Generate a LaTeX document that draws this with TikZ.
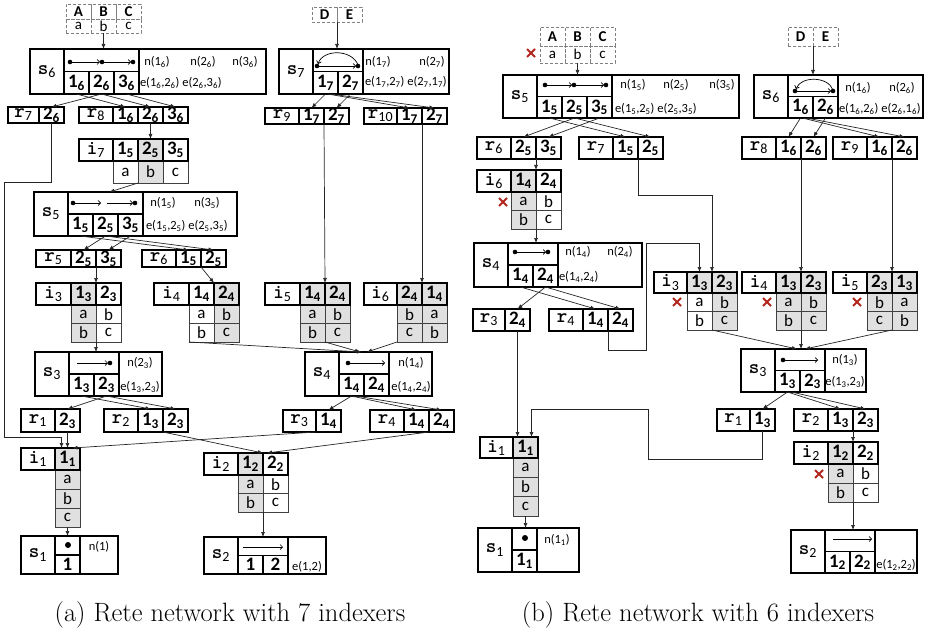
\documentclass[tikz,border=0pt]{standalone}
\usepackage{fontspec}
\usetikzlibrary{arrows.meta}
\newfontfamily\calibri{Carlito}
\definecolor{cellShade}{HTML}{E0E0E0}
\definecolor{crossRed}{HTML}{B3261E}
\newcommand{\idx}[1]{\textsubscript{#1}}
\newcommand{\lbl}[2]{{\ttfamily\bfseries #1}{\calibri\textsubscript{#2}}}
\newcommand{\labfont}{\fontsize{20}{22}\selectfont}
\newcommand{\headfont}{\calibri\bfseries\fontsize{19}{21}\selectfont}
\newcommand{\datafont}{\calibri\fontsize{17}{19}\selectfont}
\newcommand{\infofont}{\calibri\fontsize{12.5}{15}\selectfont}
\newcommand{\inpfont}{\calibri\fontsize{15}{17}\selectfont}
% row table: [label width]{name}{x}{y}{height}{label}{fill/text list}
\newcommand{\rtab}[7][34]{%
  \node[labcell, minimum width=#1, minimum height=#5, anchor=north west] (#2) at (#3,#4) {#6};
  \foreach \fl/\tx [count=\ci] in {#7}
    \node[headcell, fill=\fl, minimum height=#5, anchor=north west] (#2-\ci) at ({#3+#1+(\ci-1)*25},#4) {\tx};
}
% indexer: [label width]{name}{x}{y}{head height}{row height}{label}{head cells}{rows}
\newcommand{\itab}[9][34]{%
  \foreach \row [count=\ri] in {#9}
    \foreach \fl/\tx [count=\ci] in \row
      \node[datacell, fill=\fl, minimum height=#6, anchor=north west] (#2-\ri-\ci) at ({#3+#1+(\ci-1)*25},{#4+#5+(\ri-1)*#6}) {\tx};
  \rtab[#1]{#2}{#3}{#4}{#5}{#7}{#8}
}
% subgraph: {name}{x}{y}{height}{cells}{label}{cell texts}{right edge}
\newcommand{\stab}[8]{%
  \node[labcell, minimum width=34, minimum height=#4, anchor=north west] (#1) at (#2,#3) {#6};
  \node[headcell, minimum width={#5*25}, minimum height={#4/2}, anchor=north west] (#1-g) at ({#2+34},#3) {};
  \foreach \tx [count=\ci] in {#7}
    \node[headcell, minimum height={#4/2}, anchor=north west] (#1-\ci) at ({#2+34+(\ci-1)*25},{#3+#4/2}) {\tx};
  \node[headcell, minimum width={#8-#2-34-#5*25}, minimum height=#4, anchor=north west] (#1-t) at ({#2+34+#5*25},#3) {};
}

\begin{document}
\begin{tikzpicture}[x=1pt, y=-1pt,
    every node/.style={inner sep=0pt, outer sep=0pt},
    labcell/.style={draw, line width=1.6pt, font=\labfont},
    headcell/.style={draw, line width=1.6pt, minimum width=25, font=\headfont},
    datacell/.style={draw=black!75, line width=0.6pt, minimum width=25, font=\datafont},
    dashcell/.style={draw=black!50, densely dashed, line width=0.6pt, minimum width=25, font=\inpfont},
    info/.style={font=\infofont},
    conn/.style={draw=black!85, line width=0.7pt, -{Latex[length=5pt,width=4pt]}},
    gedge/.style={line width=0.7pt, -{Straight Barb[length=2.5pt,width=5pt]}},
    redcross/.style={crossRed, line width=1.8pt}]
  \useasboundingbox (0,0) rectangle (928,631);

  % ---------- (a) ----------
  \foreach \h/\d [count=\ci] in {A/a,B/b,C/c} {
    \node[dashcell, font=\inpfont\bfseries, minimum height=15, anchor=north west] (ta-\ci) at ({66+(\ci-1)*25},4) {\h};
    \node[dashcell, minimum height=14, anchor=north west] (ta-1-\ci) at ({66+(\ci-1)*25},19) {\d};
  }
  \foreach \h [count=\ci] in {D,E}
    \node[dashcell, font=\inpfont\bfseries, minimum height=15, anchor=north west] (td-\ci) at ({312+(\ci-1)*25},7) {\h};

  \stab{s6}{30}{49}{45}{3}{\lbl s6}{1\idx6,2\idx6,3\idx6}{266}
  \stab{s7}{279}{49}{45}{2}{\lbl s7}{1\idx7,2\idx7}{449}
  \rtab[31]{r7}{8}{107}{16}{\lbl r7}{white/2\idx6}
  \rtab{r8}{79}{107}{16}{\lbl r8}{white/1\idx6,white/2\idx6,white/3\idx6}
  \rtab{r9}{265}{108}{16}{\lbl r9}{white/1\idx7,white/2\idx7}
  \rtab[33]{r10}{364}{108}{16}{\lbl r{10}}{white/1\idx7,white/2\idx7}
  \itab{i7}{79}{139}{22}{22}{\lbl i7}{white/1\idx5,cellShade/2\idx5,white/3\idx5}{{white/a,cellShade/b,white/c}}
  \stab{s5}{34}{192}{44}{3}{\lbl s5}{1\idx5,2\idx5,3\idx5}{237}
  \rtab[35]{r5}{36}{250}{17}{\lbl r5}{white/2\idx5,white/3\idx5}
  \rtab{r6}{142}{250}{17}{\lbl r6}{white/1\idx5,white/2\idx5}
  \itab[35]{i3}{36}{283}{22}{18.5}{\lbl i3}{cellShade/1\idx3,white/2\idx3}{{cellShade/a,white/b},{cellShade/b,white/c}}
  \itab[35]{i4}{154}{283}{22}{18.5}{\lbl i4}{white/1\idx4,cellShade/2\idx4}{{white/a,cellShade/b},{white/b,cellShade/c}}
  \itab[35]{i5}{265}{283}{22}{18.5}{\lbl i5}{cellShade/1\idx4,cellShade/2\idx4}{{cellShade/a,cellShade/b},{cellShade/b,cellShade/c}}
  \itab[33]{i6}{364}{283}{22}{18.5}{\lbl i6}{cellShade/2\idx4,cellShade/1\idx4}{{cellShade/b,cellShade/a},{cellShade/c,cellShade/b}}
  \stab{s3}{35}{352}{44}{2}{\lbl s3}{1\idx3,2\idx3}{162}
  \stab{s4}{305}{352}{44}{2}{\lbl s4}{1\idx4,2\idx4}{432}
  \rtab{r1}{21}{409}{23}{\lbl r1}{white/2\idx3}
  \rtab{r2}{104}{409}{23}{\lbl r2}{white/1\idx3,white/2\idx3}
  \rtab[33]{r3}{283}{410}{22}{\lbl r3}{white/1\idx4}
  \rtab{r4}{370}{410}{22}{\lbl r4}{white/1\idx4,white/2\idx4}
  \itab{i1}{21}{448}{22}{19}{\lbl i1}{cellShade/1\idx1}{{cellShade/a},{cellShade/b},{cellShade/c}}
  \itab{i2}{204}{453}{22}{18.5}{\lbl i2}{cellShade/1\idx2,white/2\idx2}{{cellShade/a,white/b},{cellShade/b,white/c}}
  \stab{s1}{21}{536}{38}{1}{\lbl s1}{1}{118}
  \stab{s2}{204}{537}{37}{2}{\lbl s2}{1,2}{326}

  % subgraph pictures
  \fill (70,62) circle[radius=2.3pt] (102,62) circle[radius=2.3pt] (133,62) circle[radius=2.3pt];
  \draw[gedge] (70,62) -- (100,62);
  \draw[gedge] (102,62) -- (131,62);
  \fill (317,66) circle[radius=2.3pt] (358,66) circle[radius=2.3pt];
  \draw[gedge] (317,66) -- (356,66);
  \draw[gedge] (358,65) .. controls (352,49) and (323,49) .. (318,64);
  \fill (73,203) circle[radius=2.3pt] (135,203) circle[radius=2.3pt];
  \draw[gedge] (73,203) -- (101,203);
  \draw[gedge] (107,203) -- (133,203);
  \fill (110,363) circle[radius=2.3pt];
  \draw[gedge] (77,363) -- (108,363);
  \fill (348,363) circle[radius=2.3pt];
  \draw[gedge] (348,363) -- (385,363);
  \fill (68,545) circle[radius=3pt];
  \draw[gedge] (243,547) -- (283,547);

  % texts
  \node[info] (s6-n1) at (157,62) {n(1\idx6)};
  \node[info] (s6-n2) at (203,62) {n(2\idx6)};
  \node[info] (s6-n3) at (245,62) {n(3\idx6)};
  \node[info, anchor=west] (s6-e) at (140,83) {e(1\idx6,2\idx6) e(2\idx6,3\idx6)};
  \node[info] (s7-n1) at (378,62) {n(1\idx7)};
  \node[info] (s7-n2) at (432,62) {n(2\idx7)};
  \node[info, anchor=west] (s7-e) at (365,82) {e(1\idx7,2\idx7) e(2\idx7,1\idx7)};
  \node[info] (s5-n1) at (163,203) {n(1\idx5)};
  \node[info] (s5-n3) at (207,203) {n(3\idx5)};
  \node[info, anchor=west] (s5-e) at (146,226) {e(1\idx5,2\idx5) e(2\idx5,3\idx5)};
  \node[info] (s3-n) at (140,363) {n(2\idx3)};
  \node[info] (s3-e) at (140,387) {e(1\idx3,2\idx3)};
  \node[info] (s4-n) at (411,363) {n(1\idx4)};
  \node[info] (s4-e) at (411,387) {e(1\idx4,2\idx4)};
  \node[info] (s1-n) at (99,547) {n(1)};
  \node[info] (s2-e) at (307,567) {e(1,2)};

  % connectors
  \draw[conn] (ta-1-2.south) -- (ta-1-2.south |- s6-g.north);
  \draw[conn] (td-1.south east) -- (td-1.south east |- s7-g.north);
  \draw[conn] (s6-1.south) -- (r8-1.north);
  \draw[conn] (s6-2.south) -- (r8-2.north);
  \draw[conn] (s6-3.south) -- (r8-3.north);
  \draw[conn] (s6-2.south) -- (r7-1.north);
  \draw[conn] (s7-1.south) -- (r9-1.north);
  \draw[conn] (s7-2.south) -- (r9-2.north);
  \draw[conn] ([xshift=2pt]s7-1.south) -- (r10-1.north);
  \draw[conn] ([xshift=5pt]s7-1.south) -- (r10-2.north);
  \draw[conn] (r8-2.south) -- (i7-2.north);
  \draw[conn] (i7-1-2.south west) -- ([xshift=4pt]s5-g.north);
  \draw[conn] (r7-1.south) -- ++(0,59) -| (4,437) -| ([xshift=-6pt]i1-1.north);
  \draw[conn] (s5-1.south) -- (r6-1.north);
  \draw[conn] (s5-2.south) -- (r6-2.north);
  \draw[conn] (s5-2.south) -- (r5-1.north);
  \draw[conn] (s5-3.south) -- (r5-2.north);
  \draw[conn] (r5-1.south east) -- (i3-1.north east);
  \draw[conn] (r6-1.south east) -- (i4-1.north east);
  \draw[conn] (r9-1.south east) -- (i5-1.north east);
  \draw[conn] (r10-1.south east) -- (i6-1.north east);
  \draw[conn] (i3-2-1.south east) -- (i3-2-1.south east |- s3-g.north);
  \draw[conn] (i4-2-1.south west) -- ([xshift=-2pt]s4-g.north);
  \draw[conn] (i5-2-1.south east) -- ([xshift=-4pt]s4-g.north);
  \draw[conn] (i6-2-1.south west) -- ([xshift=3pt]s4-g.north);
  \draw[conn] (s3-2.south) -- (r1-1.north);
  \draw[conn] (s3-1.south) -- (r2-1.north);
  \draw[conn] (s3-2.south) -- (r2-2.north);
  \draw[conn] (s4-1.south) -- (r3-1.north);
  \draw[conn] (s4-1.south) -- (r4-1.north);
  \draw[conn] ([xshift=4pt]s4-1.south) -- (r4-2.north);
  \draw[conn] (r1-1.south) -- (r1-1.south |- i1-1.north);
  \draw[conn] (r3-1.south west) -- ([xshift=5pt]i1-1.north);
  \draw[conn] (r2-1.south east) -- (i2-1.north east);
  \draw[conn] (r4-1.south east) -- ([xshift=4pt]i2-1.north east);
  \draw[conn] (i1-3-1.south) -- (i1-3-1.south |- s1-g.north);
  \draw[conn] (i2-2-1.south east) -- (i2-2-1.south east |- s2-g.north);

  % ---------- (b) ----------
  \foreach \h/\d [count=\ci] in {A/a,B/b,C/c} {
    \node[dashcell, font=\inpfont\bfseries, minimum height=19, anchor=north west] (tb-\ci) at ({540+(\ci-1)*25},27) {\h};
    \node[dashcell, minimum height=17, anchor=north west] (tb-1-\ci) at ({540+(\ci-1)*25},46) {\d};
  }
  \foreach \h [count=\ci] in {D,E}
    \node[dashcell, font=\inpfont\bfseries, minimum height=19, anchor=north west] (te-\ci) at ({788+(\ci-1)*25},27) {\h};

  \stab{s5b}{503}{75}{43}{3}{\lbl s5}{1\idx5,2\idx5,3\idx5}{739}
  \stab{s6b}{754}{75}{43}{2}{\lbl s6}{1\idx6,2\idx6}{923}
  \rtab{r6b}{477}{137}{22}{\lbl r6}{white/2\idx5,white/3\idx5}
  \rtab{r7b}{579}{137}{22}{\lbl r7}{white/1\idx5,white/2\idx5}
  \rtab{r8b}{742}{137}{22}{\lbl r8}{white/1\idx6,white/2\idx6}
  \rtab{r9b}{833}{137}{22}{\lbl r9}{white/1\idx6,white/2\idx6}
  \itab{i6b}{477}{170}{22}{18.5}{\lbl i6}{cellShade/1\idx4,white/2\idx4}{{cellShade/a,white/b},{cellShade/b,white/c}}
  \stab{s4b}{474}{243}{44}{2}{\lbl s4}{1\idx4,2\idx4}{642}
  \rtab[32]{r3b}{473}{309}{22}{\lbl r3}{white/2\idx4}
  \rtab{r4b}{549}{309}{22}{\lbl r4}{white/1\idx4,white/2\idx4}
  \itab[33]{i3b}{654}{272}{21}{18.5}{\lbl i3}{cellShade/1\idx3,cellShade/2\idx3}{{white/a,cellShade/b},{white/b,cellShade/c}}
  \itab{i4b}{742}{272}{21}{18.5}{\lbl i4}{cellShade/1\idx3,cellShade/2\idx3}{{cellShade/a,cellShade/b},{cellShade/b,cellShade/c}}
  \itab{i5b}{833}{272}{21}{18.5}{\lbl i5}{cellShade/2\idx3,cellShade/1\idx3}{{cellShade/b,cellShade/a},{cellShade/c,cellShade/b}}
  \stab{s3b}{741}{349}{43}{2}{\lbl s3}{1\idx3,2\idx3}{866}
  \rtab[33]{r1b}{717}{409}{22}{\lbl r1}{white/1\idx3}
  \rtab{r2b}{794}{409}{22}{\lbl r2}{white/1\idx3,white/2\idx3}
  \itab[33]{i1b}{480}{437}{21}{19.3}{\lbl i1}{cellShade/1\idx1}{{cellShade/a},{cellShade/b},{cellShade/c}}
  \itab{i2b}{794}{442}{22}{19}{\lbl i2}{cellShade/1\idx2,white/2\idx2}{{cellShade/a,white/b},{cellShade/b,white/c}}
  \stab{s1b}{478}{528}{44}{1}{\lbl s1}{1\idx1}{579}
  \stab{s2b}{791}{530}{43}{2}{\lbl s2}{1\idx2,2\idx2}{917}

  % subgraph pictures
  \fill (545,85) circle[radius=2.3pt] (574,85) circle[radius=2.3pt] (606,85) circle[radius=2.3pt];
  \draw[gedge] (545,85) -- (572,85);
  \draw[gedge] (574,85) -- (604,85);
  \fill (795,91) circle[radius=2.3pt] (833,91) circle[radius=2.3pt];
  \draw[gedge] (795,91) -- (831,91);
  \draw[gedge] (833,90) .. controls (828,76) and (801,76) .. (796,89);
  \fill (515,252) circle[radius=2.3pt] (548,252) circle[radius=2.3pt];
  \draw[gedge] (515,252) -- (546,252);
  \fill (783,360) circle[radius=2.3pt];
  \draw[gedge] (783,360) -- (818,360);
  \fill (525,538) circle[radius=3pt];
  \draw[gedge] (833,539) -- (872,539);

  % texts
  \node[info] (s5b-n1) at (633,85) {n(1\idx5)};
  \node[info] (s5b-n2) at (676,85) {n(2\idx5)};
  \node[info] (s5b-n3) at (722,85) {n(3\idx5)};
  \node[info, anchor=west] (s5b-e) at (615,109) {e(1\idx5,2\idx5) e(2\idx5,3\idx5)};
  \node[info] (s6b-n1) at (858,88) {n(1\idx6)};
  \node[info] (s6b-n2) at (902,88) {n(2\idx6)};
  \node[info, anchor=west] (s6b-e) at (839,109) {e(1\idx6,2\idx6) e(2\idx6,1\idx6)};
  \node[info] (s4b-n1) at (578,252) {n(1\idx4)};
  \node[info] (s4b-n2) at (620,252) {n(2\idx4)};
  \node[info, anchor=west] (s4b-e) at (559,277) {e(1\idx4,2\idx4)};
  \node[info] (s3b-n) at (845,360) {n(1\idx3)};
  \node[info] (s3b-e) at (845,382) {e(1\idx3,2\idx3)};
  \node[info] (s1b-n) at (557,540) {n(1\idx1)};
  \node[info] (s2b-e) at (896,565) {e(1\idx2,2\idx2)};

  % deleted entries
  \foreach \cx/\cy in {531/53, 503/202, 677/302, 767/302, 857/302, 819/474}
    \draw[redcross] ({\cx-4},{\cy-4}) -- ({\cx+4},{\cy+4}) ({\cx-4},{\cy+4}) -- ({\cx+4},{\cy-4});

  % connectors
  \draw[conn] (tb-1-2.south) -- (tb-1-2.south |- s5b-g.north);
  \draw[conn] (te-1.south east) -- (te-1.south east |- s6b-g.north);
  \draw[conn] (s5b-2.south) -- (r6b-1.north);
  \draw[conn] (s5b-3.south) -- (r6b-2.north);
  \draw[conn] (s5b-1.south) -- (r7b-1.north);
  \draw[conn] (s5b-2.south) -- (r7b-2.north);
  \draw[conn] (s6b-1.south) -- (r8b-1.north);
  \draw[conn] (s6b-2.south) -- (r8b-2.north);
  \draw[conn] ([xshift=2pt]s6b-1.south) -- (r9b-1.north);
  \draw[conn] ([xshift=6pt]s6b-1.south) -- (r9b-2.north);
  \draw[conn] (r6b-1.south east) -- (i6b-1.north east);
  \draw[conn] (i6b-2-1.south east) -- (i6b-2-1.south east |- s4b-g.north);
  \draw[conn] (r7b-1.south east) -- ++(0,36) -| (i3b-1.north east);
  \draw[conn] (r8b-1.south east) -- (i4b-1.north east);
  \draw[conn] (r9b-1.south east) -- (i5b-1.north east);
  \draw[conn] (s4b-2.south) -- (r3b-1.north);
  \draw[conn] (s4b-1.south) -- (r4b-1.north);
  \draw[conn] (s4b-2.south) -- (r4b-2.north);
  \draw[conn] (r4b-1.south east) -- ++(0,19) -| (646,243) -| (i3b-1.north);
  \draw[conn] (i3b-2-1.south east) -- ([xshift=-3pt]s3b-g.north);
  \draw[conn] (i4b-2-1.south east) -- (i4b-2-1.south east |- s3b-g.north);
  \draw[conn] (i5b-2-1.south east) -- ([xshift=5pt]s3b-g.north);
  \draw[conn] (s3b-1.south) -- (r1b-1.north);
  \draw[conn] (s3b-1.south) -- (r2b-1.north);
  \draw[conn] ([xshift=4pt]s3b-1.south) -- (r2b-2.north);
  \draw[conn] (r1b-1.south) -- ++(0,28) -| (648,409) -| ([xshift=6pt]i1b-1.north);
  \draw[conn] (r3b-1.south) -- (r3b-1.south |- i1b-1.north);
  \draw[conn] (r2b-1.south east) -- (i2b-1.north east);
  \draw[conn] (i2b-2-1.south east) -- (i2b-2-1.south east |- s2b-g.north);
  \draw[conn] (i1b-3-1.south) -- (i1b-3-1.south |- s1b-g.north);

  % captions
  \node[font=\fontsize{26.5}{32}\selectfont] (capa) at (230,615) {(a) Rete network with 7 indexers};
  \node[font=\fontsize{26.5}{32}\selectfont] (capb) at (698,615) {(b) Rete network with 6 indexers};
\end{tikzpicture}
\end{document}
